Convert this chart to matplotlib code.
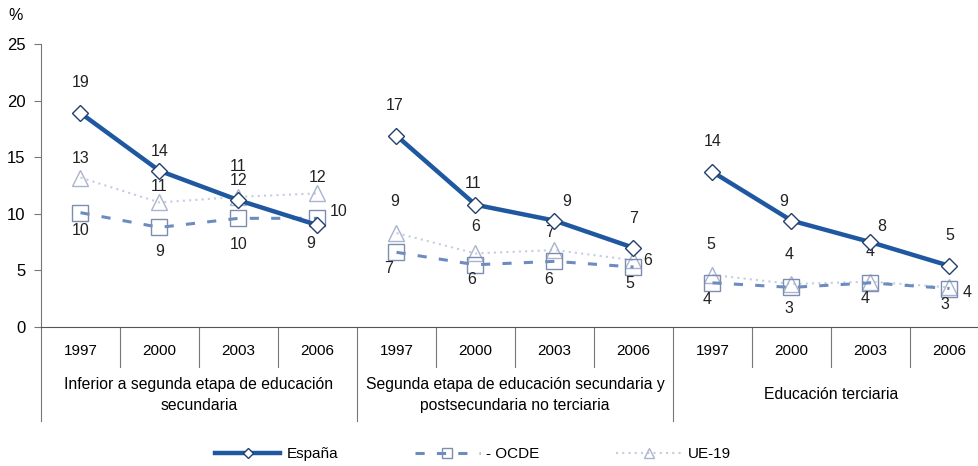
import matplotlib.pyplot as plt

plt.rcParams['font.family'] = ['Liberation Sans', 'DejaVu Sans']

years = ["1997", "2000", "2003", "2006"]
groups = ["Inferior a segunda etapa de educación\nsecundaria",
          "Segunda etapa de educación secundaria y\npostsecundaria no terciaria",
          "Educación terciaria"]

# values per group (1997, 2000, 2003, 2006)
espana = [[18.9, 13.8, 11.2, 9.0], [16.9, 10.8, 9.4, 7.0], [13.7, 9.4, 7.5, 5.4]]
ocde = [[10.1, 8.8, 9.6, 9.6], [6.6, 5.5, 5.8, 5.3], [3.9, 3.5, 3.9, 3.4]]
ue19 = [[13.2, 11.0, 11.5, 11.8], [8.3, 6.5, 6.8, 5.9], [4.6, 3.8, 4.0, 3.5]]

esp_lab = [["19", "14", "11", "9"], ["17", "11", "9", "7"], ["14", "9", "8", "5"]]
ocde_lab = [["10", "9", "10", "10"], ["7", "6", "6", "5"], ["4", "3", "4", "3"]]
ue_lab = [["13", "11", "12", "12"], ["9", "6", "7", "6"], ["5", "4", "4", "4"]]

# label offsets in pixels (dx, dy)
esp_off = [[(0, 31), (0, 19), (0, 34), (-7, -18)],
           [(-2, 30), (-2, 21), (12, 19), (0, 29)],
           [(0, 30), (-8, 19), (11, 16), (0, 30)]]
ocde_off = [[(0, -18), (0, -24), (0, -26), (21, 7)],
            [(-8, -16), (-4, -15), (-6, -18), (-4, -16)],
            [(-5, -17), (-3, -21), (-5, -16), (-5, -16)]]
ue_off = [[(0, 19), (0, 16), (0, 16), (0, 16)],
          [(-2, 32), (0, 27), (-5, 18), (14, 0)],
          [(-2, 30), (-2, 29), (0, 30), (18, -5)]]

c_esp = "#1f58a0"
c_ocde = "#6c8cc0"
c_ue = "#c5cde0"

fig = plt.figure(figsize=(9.79, 4.66), dpi=100)
ax = fig.add_axes([41 / 979, 139 / 466, 948 / 979, 283 / 466])
ax.set_xlim(-0.5, 11.5)
ax.set_ylim(0, 25)

def put_labels(xs, ys, labs, offs):
    for x, y, t, (dx, dy) in zip(xs, ys, labs, offs):
        ax.annotate(t, (x, y), xytext=(dx * 0.72, dy * 0.72), textcoords="offset points",
                    ha="center", va="center", fontsize=11.5, color="#222222")

for g in range(3):
    xs = [g * 4 + i for i in range(4)]
    ax.plot(xs, ue19[g], color=c_ue, lw=1.5, ls=(0, (1, 2)), marker="^", ms=11,
            mfc="none", mec="#a9b4cc", mew=1.0, zorder=2,
            label="UE-19" if g == 0 else None)
    ax.plot(xs, ocde[g], color=c_ocde, lw=2.2, ls=(0, (3, 4)), marker="s", ms=11,
            mfc="none", mec="#7d8db0", mew=1.0, zorder=3,
            label="- OCDE" if g == 0 else None)
    ax.plot(xs, espana[g], color=c_esp, lw=3.2, marker="D", ms=8,
            mfc="white", mec="#233f6e", mew=1.0, zorder=4,
            label="España" if g == 0 else None)
    put_labels(xs, ue19[g], ue_lab[g], ue_off[g])
    put_labels(xs, ocde[g], ocde_lab[g], ocde_off[g])
    put_labels(xs, espana[g], esp_lab[g], esp_off[g])

# axes styling
for s in ["top", "right"]:
    ax.spines[s].set_visible(False)
ax.spines["left"].set_color("#777777")
ax.spines["bottom"].set_color("#555555")
ax.set_yticks([0, 5, 10, 15, 20, 25])
ax.tick_params(axis="y", length=5, color="#777777", labelsize=12, pad=6)
ax.set_xticks([])
fig.text(16 / 979, 1 - 16 / 466, "%", fontsize=11.5, ha="center", va="center")

# category table below the axis
for i in range(13):
    x = i - 0.5
    bottom = -8.3 if i % 4 == 0 else -3.5
    ax.plot([x, x], [0, bottom], color="#777777", lw=0.8, clip_on=False)
for i in range(12):
    ax.text(i, -2.1, years[i % 4], ha="center", va="center", fontsize=11, clip_on=False)
for g, name in enumerate(groups):
    ax.text(g * 4 + 1.5, -6.0, name, ha="center", va="center", fontsize=11.3,
            linespacing=1.45, clip_on=False)

handles, labels = ax.get_legend_handles_labels()
order = [2, 1, 0]
fig.legend([handles[i] for i in order], [labels[i] for i in order],
           loc="center", bbox_to_anchor=(0.483, 0.026), ncol=3, frameon=False,
           handlelength=4.3, columnspacing=5.0, fontsize=11, handletextpad=0.4,
           markerscale=0.6)

fig.savefig("out.png", dpi=100)
